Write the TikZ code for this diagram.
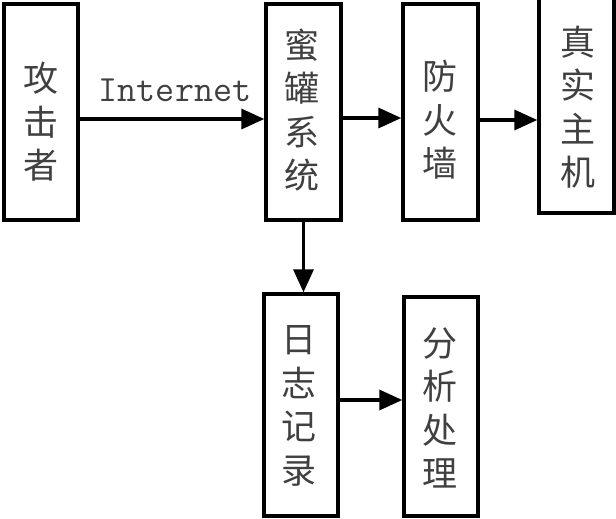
\documentclass[tikz,border=0pt]{standalone}
\usepackage{fontspec}
\newfontfamily\cjk{Noto Sans CJK SC}
\usetikzlibrary{arrows.meta}
\begin{document}
\begin{tikzpicture}[x=1pt,y=-1pt,
  box/.style={draw, line width=3.4pt, inner sep=0pt},
  txt/.style={inner sep=0pt, align=center,
    font=\cjk\fontsize{35}{43.5}\selectfont, text=black!75},
  arr/.style={line width=3.4pt, -{Triangle[length=23pt,width=20pt]}}]
\useasboundingbox (0,0) rectangle (616,519);
\node[box, minimum width=74pt, minimum height=216pt] (atk) at (41,112) {};
\node[box, minimum width=75pt, minimum height=216pt] (hp) at (303.5,112) {};
\node[box, minimum width=75pt, minimum height=216pt] (fw) at (440.5,112) {};
\node[box, minimum width=75pt, minimum height=216pt] (host) at (576.5,105) {};
\node[box, minimum width=74pt, minimum height=222pt] (log) at (301,405) {};
\node[box, minimum width=74pt, minimum height=219pt] (ana) at (441,406.5) {};
\node[txt] (atkT) at (41,122) {攻\\击\\者};
\node[txt] (hpT) at (302,110) {蜜\\罐\\系\\统};
\node[txt] (fwT) at (440,120) {防\\火\\墙};
\node[txt] (hostT) at (578,107) {真\\实\\主\\机};
\node[txt] (logT) at (299,406) {日\\志\\记\\录};
\node[txt] (anaT) at (440,408) {分\\析\\处\\理};
\node[font=\ttfamily\fontsize{37}{42}\selectfont, text=black!75] (inet) at (175,90) {Internet};
\draw[arr] ([yshift=-7pt]atk.east) -- ([yshift=-7pt]hp.west);
\draw[arr] ([yshift=-6pt]hp.east) -- ([yshift=-6pt]fw.west);
\draw[arr] ([yshift=-8pt]fw.east) -- ([yshift=-8pt]fw.east -| host.west);
\draw[arr] (hp.south) -- (hp.south |- log.north);
\draw[arr] ([yshift=5pt]log.east) -- ([yshift=5pt]log.east -| ana.west);
\end{tikzpicture}
\end{document}
